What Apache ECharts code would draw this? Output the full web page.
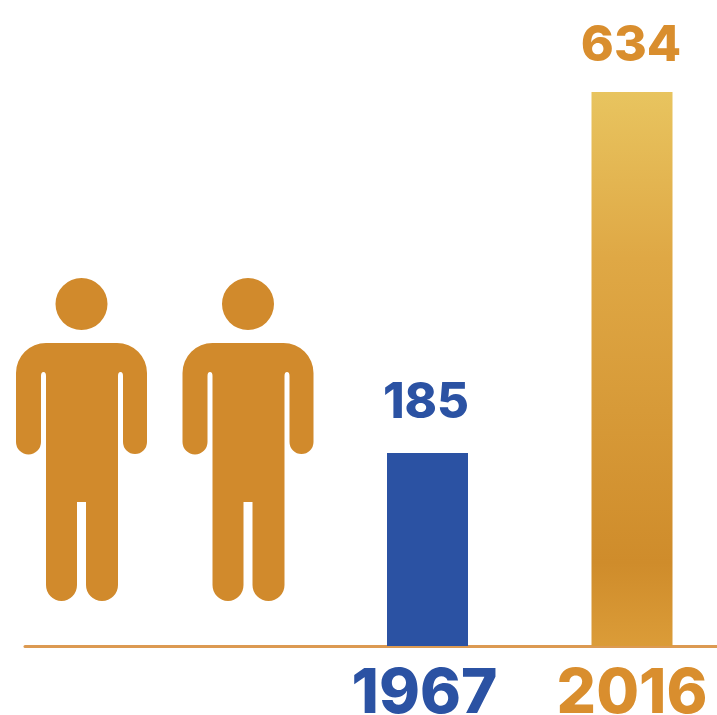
<!DOCTYPE html>
<html>
<head>
<meta charset="utf-8">
<style>html,body{margin:0;padding:0;background:#fff}#c{width:717px;height:715px}</style>
<script src="https://cdn.jsdelivr.net/npm/echarts@6/dist/echarts.min.js"></script>
</head>
<body>
<div id="c"></div>
<script>
const years = ['1967', '2016'];
const valueLabels = [185, 634];
// Bar lengths as drawn in the picture, on the scale set by the tallest bar
const drawnValues = [221, 634];

const barCentres = [427.5, 632];
const personCentres = [81.5, 248];
const PERSON_LEVEL = 236.3;
const FONT = 'Inter, "Open Sans", sans-serif';
const BLUE = '#2b52a3';
const GOLD = '#d18a2c';

const PERSON = 'path://M39.5 26A26 26 0 1 1 91.5 26A26 26 0 1 1 39.5 26Z' +
  'M30 65L101 65A30 30 0 0 1 131 95L131 164A12 12 0 0 1 107 164L107 98Q107 94 104.5 94Q102 94 102 98' +
  'L102 307A16 16 0 0 1 70 307L70 224L61 224L61 307A15.5 16 0 0 1 30 307L30 98Q30 94 27.5 94Q25 94 25 98' +
  'L25 164A12.5 12.5 0 0 1 0 164L0 95A30 30 0 0 1 30 65Z';

const goldGradient = new echarts.graphic.LinearGradient(0, 0, 0, 1, [
  { offset: 0, color: '#e8c45f' },
  { offset: 0.3, color: '#dfa845' },
  { offset: 0.85, color: '#cf8c2b' },
  { offset: 1, color: '#db9c38' }
]);

const chart = echarts.init(document.getElementById('c'), null, { renderer: 'canvas' });
chart.setOption({
  animation: false,
  backgroundColor: '#ffffff',
  grid: { left: 25, right: 0, top: 92, bottom: 69, outerBoundsMode: 'none' },
  xAxis: {
    type: 'value', min: 25, max: 717,
    splitLine: { show: false },
    axisTick: { show: false },
    axisLine: { show: true, onZero: false, lineStyle: { color: '#dc9a52', width: 3 } },
    axisLabel: {
      show: true,
      customValues: barCentres,
      margin: 17,
      formatter: v => {
        const i = barCentres.indexOf(v);
        return '{y' + i + '|' + years[i] + '}';
      },
      rich: {
        y0: { color: BLUE, fontFamily: FONT, fontWeight: 800, fontSize: 62, padding: [0, 6, 0, 0] },
        y1: { color: '#d98e2e', fontFamily: FONT, fontWeight: 800, fontSize: 62 }
      }
    }
  },
  yAxis: { type: 'value', min: 0, max: 634, show: false, splitLine: { show: false } },
  series: [
    {
      type: 'bar',
      barWidth: 81,
      data: drawnValues.map((v, i) => ({
        value: [barCentres[i], v],
        itemStyle: { color: i === 0 ? BLUE : goldGradient },
        label: {
          show: true, position: 'top', distance: i === 0 ? 25 : 21,
          formatter: String(valueLabels[i]),
          color: i === 0 ? BLUE : '#d98e2e',
          padding: i === 0 ? [0, 3, 0, 0] : [0, 2, 0, 0],
          fontFamily: FONT, fontWeight: 800, fontSize: i === 0 ? 49 : 50
        }
      }))
    },
    {
      type: 'scatter',
      symbol: PERSON,
      symbolSize: [131, 323],
      symbolKeepAspect: false,
      itemStyle: { color: GOLD, opacity: 1 },
      data: personCentres.map(x => [x, PERSON_LEVEL])
    }
  ]
});
</script>
</body>
</html>
